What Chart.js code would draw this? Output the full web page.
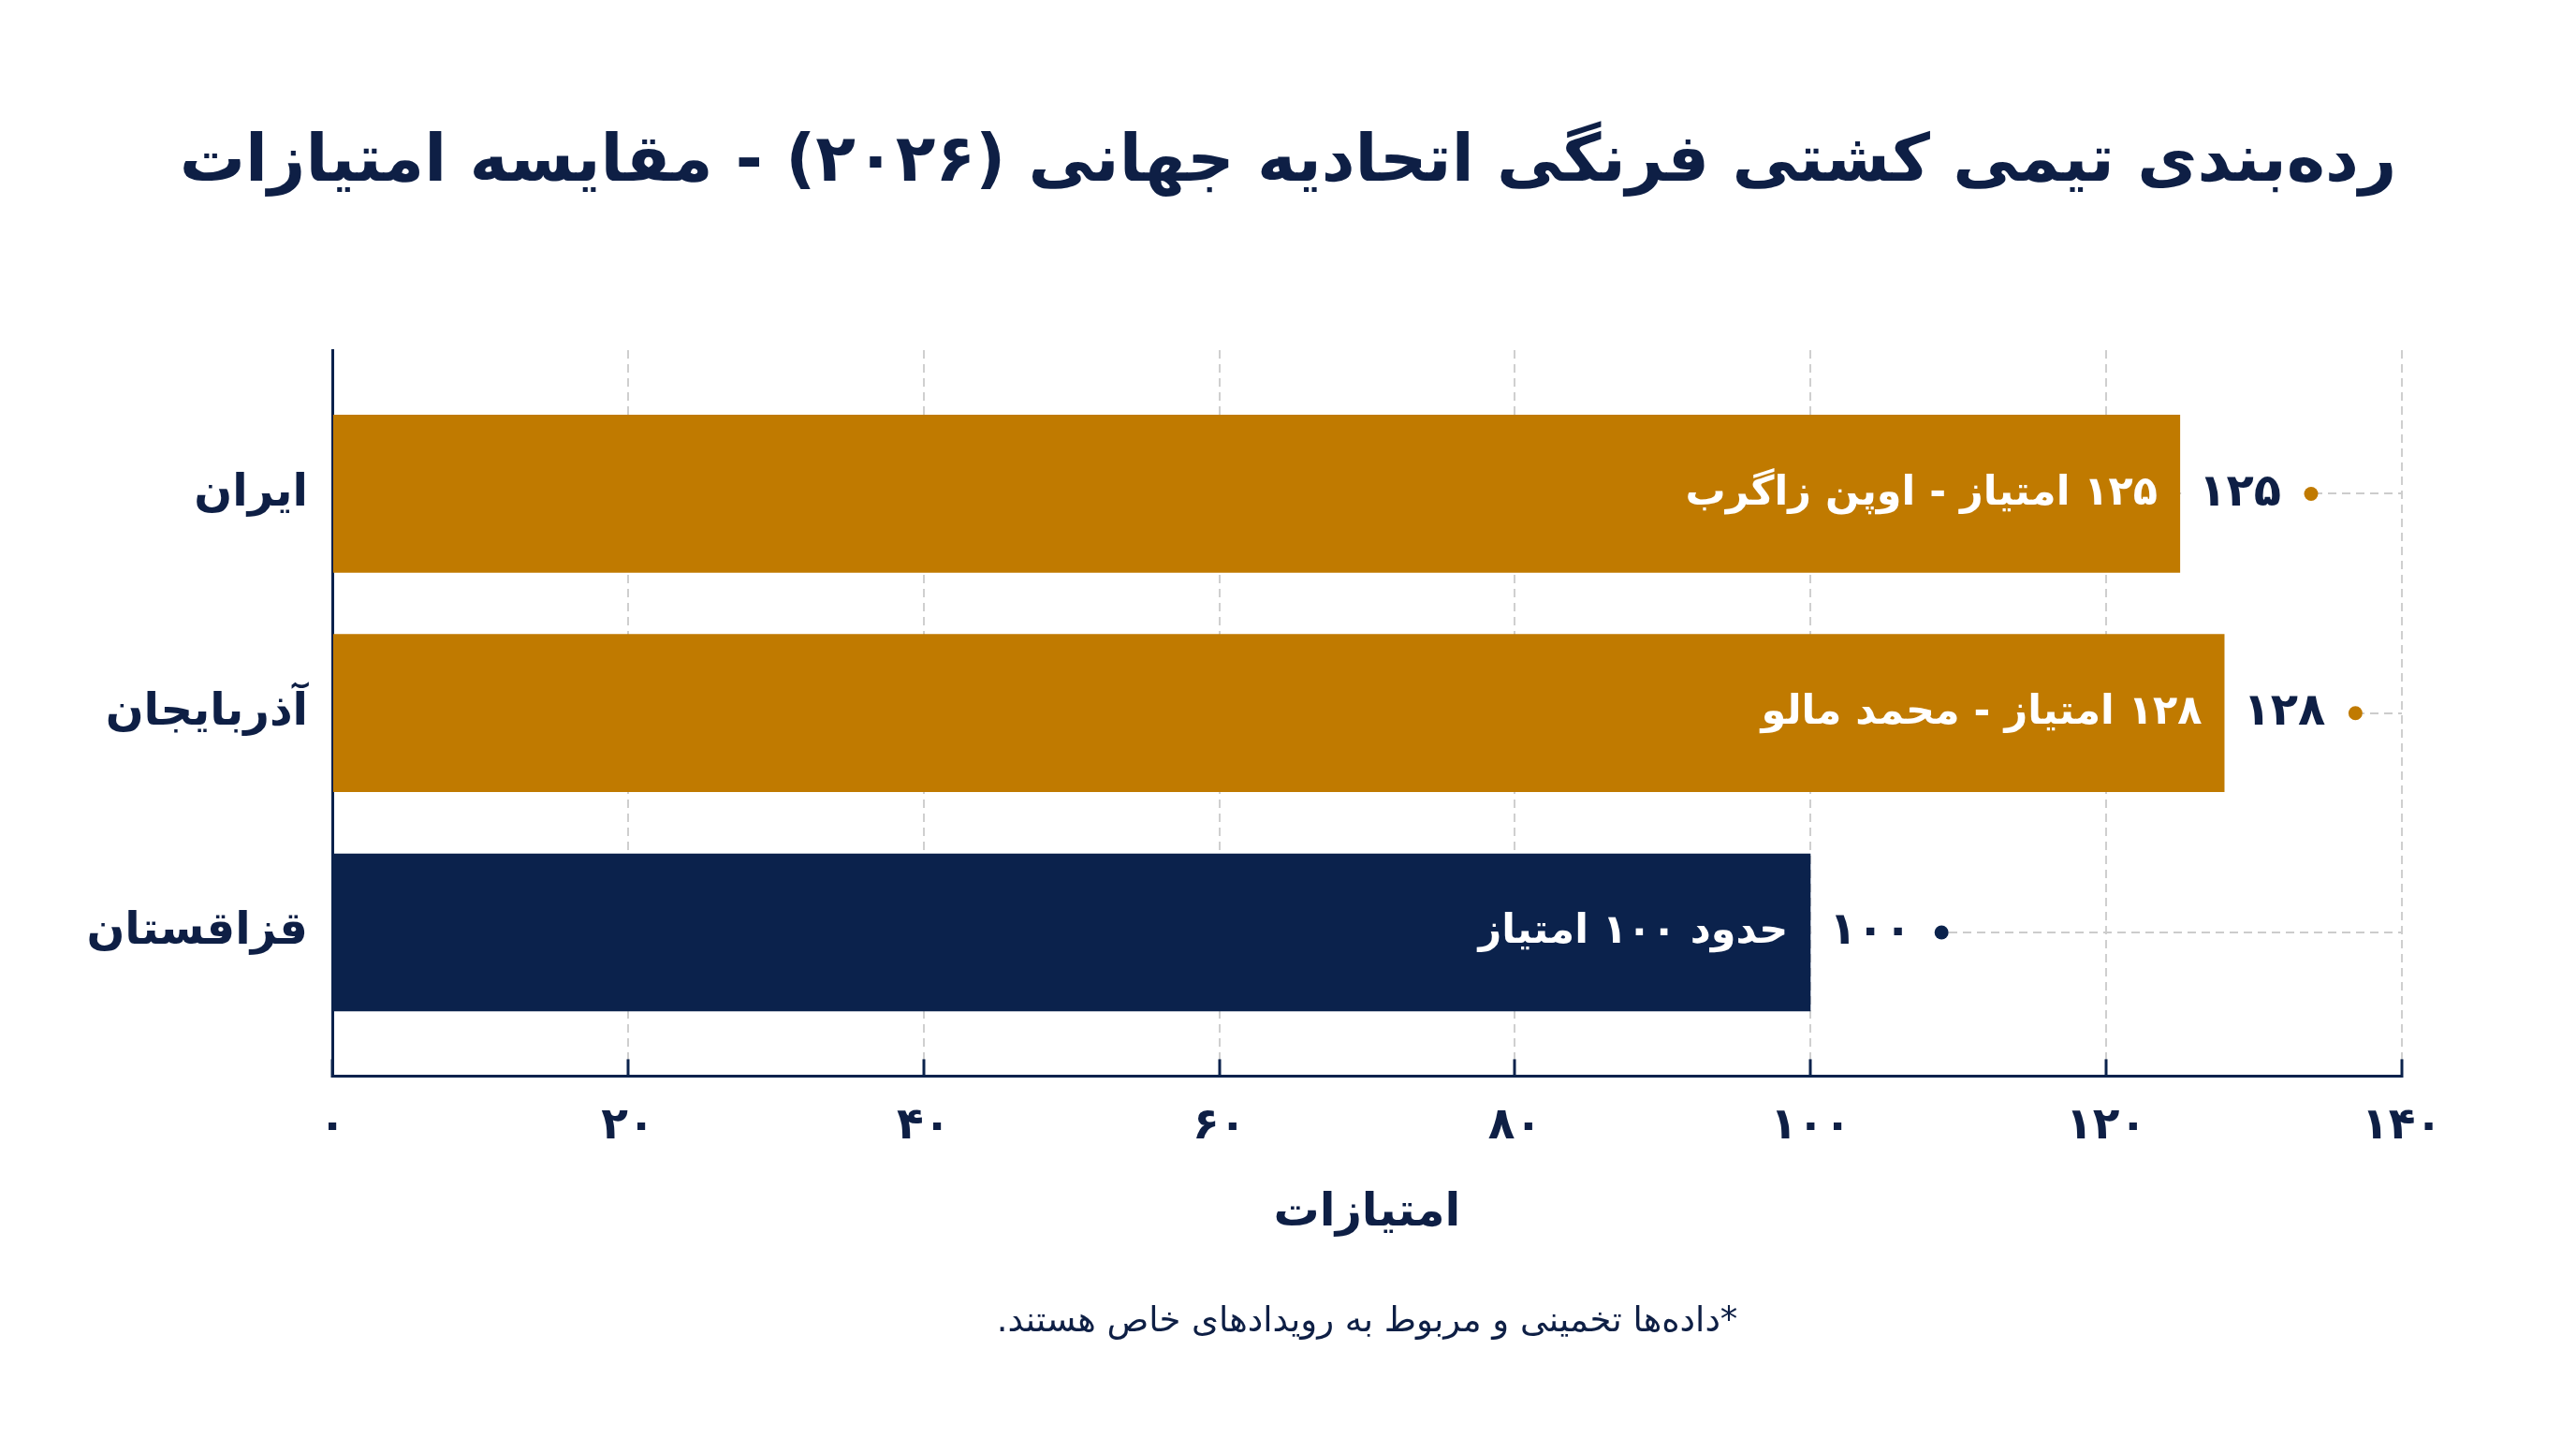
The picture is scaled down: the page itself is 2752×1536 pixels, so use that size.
<!DOCTYPE html>
<html lang="fa">
<head>
<meta charset="utf-8">
<script src="https://cdn.jsdelivr.net/npm/chart.js@4.4.1/dist/chart.umd.min.js"></script>
<style>
  html, body { margin: 0; padding: 0; background: #ffffff; }
  #wrap { width: 2752px; height: 1536px; }
</style>
</head>
<body>
<div id="wrap"><canvas id="c" width="2752" height="1536" dir="rtl"></canvas></div>
<script>
// ---- data ----
const categories = ['ایران', 'آذربایجان', 'قزاقستان'];
const points = [125, 128, 100];
const annotations = ['۱۲۵ امتیاز - اوپن زاگرب', '۱۲۸ امتیاز - محمد مالو', 'حدود ۱۰۰ امتیاز'];
const xTicks = [0, 20, 40, 60, 80, 100, 120, 140];
const titleText = 'رده\u200cبندی تیمی کشتی فرنگی اتحادیه جهانی (۲۰۲۶) - مقایسه امتیازات';
const axisTitle = 'امتیازات';
const footnote = '*داده\u200cها تخمینی و مربوط به رویدادهای خاص هستند.';

// ---- styles ----
const GOLD = '#C07A00';
const NAVY = '#0B224C';
const TEXT = '#0E1F45';
const barColors = [GOLD, GOLD, NAVY];
const FONT = "'DejaVu Sans', sans-serif";

const toFa = n => String(n).replace(/\d/g, d => '۰۱۲۳۴۵۶۷۸۹'[d]);

Chart.defaults.font.family = FONT;
Chart.defaults.color = TEXT;

const barLabels = {
  id: 'barLabels',
  afterDatasetsDraw(chart) {
    const ctx = chart.ctx;
    const meta = chart.getDatasetMeta(0);
    meta.data.forEach((bar, i) => {
      const x = bar.x, y = bar.y;
      ctx.save();
      ctx.direction = 'rtl';
      ctx.textBaseline = 'middle';
      // inside label
      ctx.font = `bold 43px ${FONT}`;
      ctx.fillStyle = '#ffffff';
      ctx.textAlign = 'right';
      ctx.fillText(annotations[i], x - 24, y);
      // outside value label
      ctx.font = `bold 48px ${FONT}`;
      const txt = toFa(points[i]);
      const w = ctx.measureText(txt).width;
      const lx = x + 20;
      const dotX = lx + w + 32;
      ctx.fillStyle = '#ffffff';
      ctx.fillRect(x + 1, y - 8, dotX - x, 16);
      ctx.fillStyle = TEXT;
      ctx.textAlign = 'left';
      ctx.fillText(txt, lx, y);
      ctx.beginPath();
      ctx.arc(dotX, y, 7.5, 0, Math.PI * 2);
      ctx.fillStyle = barColors[i];
      ctx.fill();
      ctx.restore();
    });
  }
};

new Chart(document.getElementById('c'), {
  type: 'bar',
  data: {
    datasets: [{
      data: points.map((v, i) => ({ x: v, y: i })),
      backgroundColor: barColors,
      borderWidth: 0,
      barPercentage: 0.72,
      categoryPercentage: 1.0
    }]
  },
  options: {
    indexAxis: 'y',
    responsive: false,
    devicePixelRatio: 1,
    animation: false,
    layout: { padding: { left: 0, right: 0, top: 0, bottom: 0 } },
    plugins: {
      legend: { display: false },
      tooltip: { enabled: false },
      title: {
        display: true,
        text: titleText,
        color: TEXT,
        font: { size: 70, weight: 'bold', family: FONT },
        padding: { top: 133, bottom: 157 }
      },
      subtitle: {
        display: true,
        position: 'bottom',
        fullSize: false,
        text: footnote,
        color: TEXT,
        font: { size: 37, weight: 'normal', family: FONT },
        padding: { top: 55, bottom: 101 }
      }
    },
    scales: {
      x: {
        type: 'linear',
        min: 0,
        max: 140,
        afterBuildTicks: axis => { axis.ticks = xTicks.map(v => ({ value: v })); },
        ticks: {
          callback: v => toFa(v),
          color: TEXT,
          font: { size: 47, weight: 'bold', family: FONT },
          padding: 44
        },
        grid: {
          color: '#cfcfcf',
          lineWidth: 2,
          drawTicks: true,
          tickLength: -18,
          tickColor: NAVY,
          tickWidth: 3,
          tickBorderDash: []
        },
        border: { display: true, color: NAVY, width: 3, dash: [9, 6] },
        title: {
          display: true,
          text: axisTitle,
          color: TEXT,
          font: { size: 49, weight: 'bold', family: FONT },
          padding: { top: -9, bottom: 10 }
        }
      },
      y: {
        type: 'linear',
        reverse: true,
        offset: false,
        min: -0.655,
        max: 2.655,
        bounds: 'data',
        afterBuildTicks: axis => { axis.ticks = categories.map((_, i) => ({ value: i })); },
        afterFit: scale => { scale.width = 355; },
        ticks: {
          callback: v => categories[v] ?? '',
          color: TEXT,
          font: { size: 48, weight: 'bold', family: FONT },
          padding: 26
        },
        grid: {
          offset: false,
          color: '#cccccc',
          lineWidth: 2,
          drawTicks: false
        },
        border: { display: true, color: NAVY, width: 3, dash: [9, 6] }
      },
      rightPad: {
        type: 'linear',
        position: 'right',
        display: true,
        afterFit: scale => { scale.width = 186; },
        ticks: { display: false },
        grid: { display: false, drawTicks: false },
        border: { display: false }
      }
    }
  },
  plugins: [barLabels]
});
</script>
</body>
</html>
